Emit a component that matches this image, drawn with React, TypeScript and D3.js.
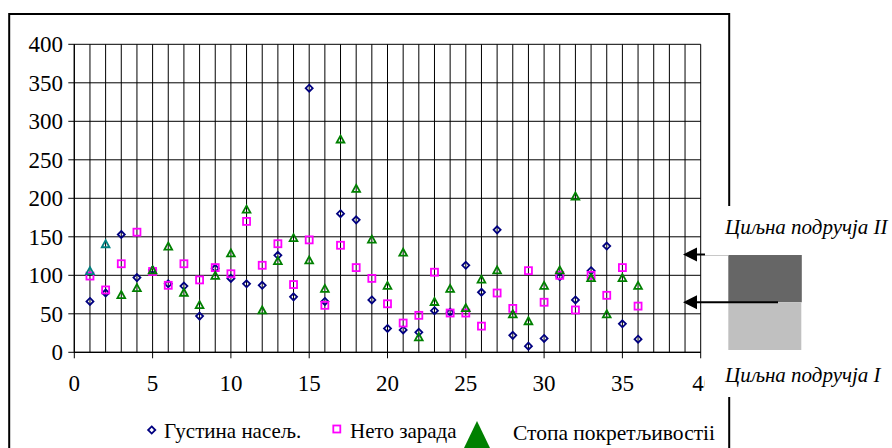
import React from 'react';
import * as d3 from 'd3';

const xValues = [1, 2, 3, 4, 5, 6, 7, 8, 9, 10, 11, 12, 13, 14, 15, 16, 17, 18, 19, 20, 21, 22, 23, 24, 25, 26, 27, 28, 29, 30, 31, 32, 33, 34, 35, 36];
const density = [66, 77, 153, 97, 107, 89, 86, 47, 109, 96, 89, 87, 126, 72, 343, 66, 180, 172, 68, 31, 29, 26, 54, 52, 113, 78, 159, 22, 8, 18, 98, 68, 106, 138, 37, 17];
const salary = [99, 81, 115, 156, 105, 87, 115, 94, 110, 102, 170, 113, 141, 88, 146, 61, 139, 110, 96, 63, 38, 48, 104, 51, 51, 34, 77, 57, 106, 65, 100, 55, 100, 74, 110, 60];
const mobility = [106, 141, 75, 84, 107, 138, 78, 62, 100, 129, 186, 55, 119, 149, 120, 83, 277, 213, 147, 87, 130, 20, 66, 83, 58, 95, 107, 50, 41, 87, 107, 203, 97, 50, 97, 87];
const mobilityTealCount = 2;

const yTicks = [0, 50, 100, 150, 200, 250, 300, 350, 400];
const xTicks = [0, 5, 10, 15, 20, 25, 30, 35, 40];
const xTickLabels = ['0', '5', '10', '15', '20', '25', '30', '35', '40'];
const seriesNames = ['Густина насељ.', 'Нето зарада', 'Стопа покретљивостii'];
const zoneLabels = ['Циљна подручја II', 'Циљна подручја I'];
const zoneLevels = [127, 65];

const NAVY = '#000080';
const MAGENTA = '#FF00FF';
const GREEN = '#008000';
const TEAL = '#008080';
const FONT = "'Liberation Serif', 'DejaVu Serif', serif";

export default function App() {
  const W = 892;
  const H = 448;
  const x = d3.scaleLinear().domain([0, 40]).range([74.3, 700.7]);
  const y = d3.scaleLinear().domain([0, 400]).range([352.3, 44.3]);
  const gridX = d3.range(0, 41);

  const diamond = (r: number) => `M0,${-r}L${r},0L0,${r}L${-r},0Z`;
  const tri = (r: number) => `M0,${-r}L${r * 1.1},${r}L${-r * 1.1},${r}Z`;

  const yUp = y(zoneLevels[0]);
  const yLo = y(zoneLevels[1]);
  const ts = { fontFamily: FONT };

  return (
    <svg width={W} height={H} style={{ position: 'absolute', left: 0, top: 0, background: '#fff', fontFamily: FONT }}>
      <rect x={0} y={0} width={W} height={H} fill="#fff" />
      {/* outer frame */}
      <rect x={9.2} y={14} width={720} height={500} fill="none" stroke="#000" strokeWidth={2} />

      {/* grid */}
      {gridX.map((g) => (
        <line key={'gx' + g} x1={x(g)} x2={x(g)} y1={y(400)} y2={y(0)} stroke="#000" strokeWidth={1} />
      ))}
      {yTicks.map((t) => (
        <line key={'gy' + t} x1={x(0) - 6} x2={x(40)} y1={y(t)} y2={y(t)} stroke="#000" strokeWidth={1} />
      ))}
      {xTicks.map((t) => (
        <line key={'tx' + t} x1={x(t)} x2={x(t)} y1={y(0)} y2={y(0) + 6} stroke="#000" strokeWidth={1} />
      ))}
      <line x1={x(0)} x2={x(0)} y1={y(400)} y2={y(0)} stroke="#000" strokeWidth={1.2} />
      <line x1={x(0)} x2={x(40)} y1={y(0)} y2={y(0)} stroke="#000" strokeWidth={1.2} />

      {/* y tick labels */}
      {yTicks.map((t) => (
        <text key={'ly' + t} x={63} y={y(t)} dy="0.35em" textAnchor="end" fontSize={23} fill="#000" style={ts}>{t}</text>
      ))}
      {/* x tick labels */}
      {xTicks.map((t, i) => (
        <text key={'lx' + t} x={x(t) + (i === xTicks.length - 1 ? 3 : 0)} y={391} textAnchor="middle" fontSize={23} fill="#000" style={ts}>{xTickLabels[i]}</text>
      ))}

      {/* series */}
      {xValues.map((xv, i) => (
        <path key={'d' + i} d={diamond(3.5)} transform={`translate(${x(xv)},${y(density[i])})`} fill="none" stroke={NAVY} strokeWidth={1.8} />
      ))}
      {xValues.map((xv, i) => (
        <rect key={'s' + i} x={x(xv) - 3.5} y={y(salary[i]) - 3.5} width={7} height={7} fill="none" stroke={MAGENTA} strokeWidth={1.8} />
      ))}
      {xValues.map((xv, i) => (
        <path key={'t' + i} d={tri(3.5)} transform={`translate(${x(xv)},${y(mobility[i])})`} fill="none" stroke={i < mobilityTealCount ? TEAL : GREEN} strokeWidth={1.8} />
      ))}

      {/* annotation area */}
      <rect x={704.5} y={206} width={188} height={191} fill="#fff" />
      <text x={725} y={234} fontSize={21} fontStyle="italic" fill="#000" style={ts}>{zoneLabels[0]}</text>
      <text x={725} y={382} fontSize={21} fontStyle="italic" fill="#000" style={ts}>{zoneLabels[1]}</text>
      <rect x={728.3} y={yUp + 0.5} width={73.5} height={yLo - yUp - 0.5} fill="#666666" />
      <rect x={728.3} y={yLo} width={73} height={350 - yLo} fill="#C0C0C0" />
      {/* upper arrow */}
      <line x1={697} x2={705} y1={yUp} y2={yUp} stroke="#000" strokeWidth={2} />
      <line x1={705} x2={728.3} y1={yUp + 1} y2={yUp + 1} stroke="#C8C8C8" strokeWidth={1} />
      <polygon points={`683,${yUp} 697,${yUp - 7} 697,${yUp + 7}`} fill="#000" />
      {/* lower arrow */}
      <line x1={697} x2={778} y1={yLo} y2={yLo} stroke="#000" strokeWidth={2} />
      <polygon points={`683,${yLo} 697,${yLo - 7} 697,${yLo + 7}`} fill="#000" />

      {/* legend */}
      <path d={diamond(3.6)} transform="translate(151.7,430)" fill="none" stroke={NAVY} strokeWidth={1.8} />
      <text x={164} y={438} fontSize={21} fill="#000" style={ts}>{seriesNames[0]}</text>
      <rect x={333.3} y={425.5} width={7} height={7} fill="none" stroke={MAGENTA} strokeWidth={1.8} />
      <text x={350} y={438} fontSize={21} fill="#000" style={ts}>{seriesNames[1]}</text>
      <polygon points="464,448 477,421 490,448" fill={GREEN} />
      <text x={513} y={440} fontSize={21.5} fill="#000" style={ts}>{seriesNames[2]}</text>
    </svg>
  );
}
